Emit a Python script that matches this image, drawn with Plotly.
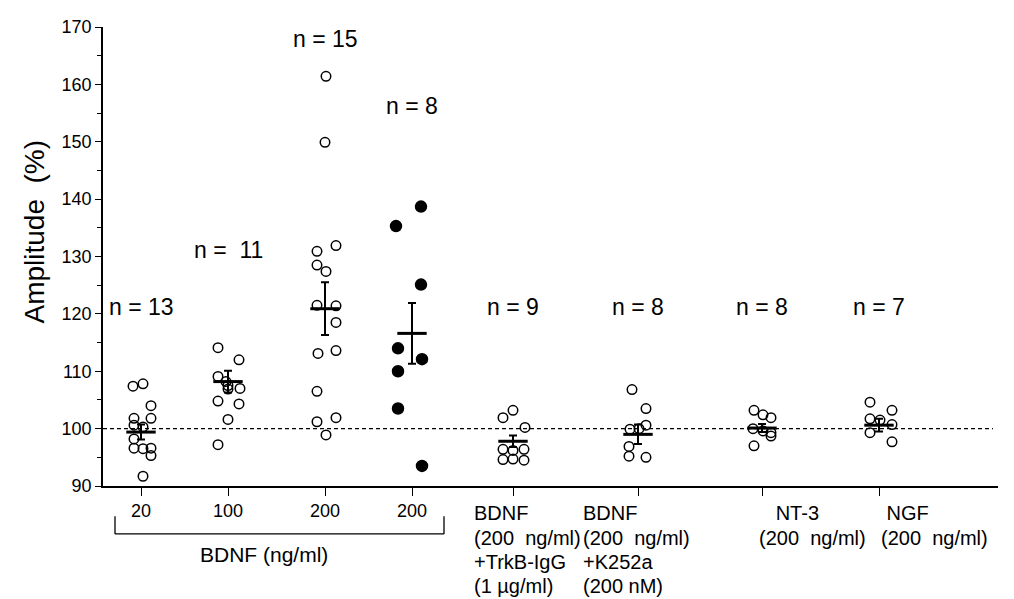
import plotly.graph_objects as go

# ---------------- data ----------------
group_pos = [3.8, 12.5, 22.2, 30.9, 41.0, 53.5, 65.9, 77.6]
tick_text = ["20", "100", "200", "200", "", "", "", ""]
n_labels = ["n = 13", "n =\u00a0 11", "n = 15", "n = 8", "n = 9", "n = 8", "n = 8", "n = 7"]
n_label_y = [121.2, 131.1, 167.9, 156.2, 121.2, 121.2, 121.2, 121.2]

g1_vals = [107.4, 107.8, 104.0, 101.8, 101.8, 100.6, 100.3, 98.2, 96.6, 96.5, 96.6, 95.3, 91.7]
g1_dx = [-0.8, 0.2, 1.0, -0.7, 1.0, -0.7, 0.2, -0.7, -0.7, 0.2, 1.0, 1.0, 0.2]
g2_vals = [114.1, 112.0, 109.1, 106.9, 107.5, 107.0, 104.8, 104.3, 101.6, 97.2, 108.2]
g2_dx = [-1.0, 1.1, -1.0, 0.0, 0.0, 1.2, -1.0, 1.1, 0.0, -1.0, -0.2]
g3_vals = [161.4, 149.9, 130.9, 131.9, 128.5, 127.4, 121.5, 121.4, 118.5, 113.1, 113.6, 106.5, 101.2, 101.9, 98.9]
g3_dx = [0.1, 0.0, -0.8, 1.1, -0.8, 0.1, -0.8, 1.1, 1.1, -0.7, 1.1, -0.8, -0.8, 1.1, 0.1]
g4_vals = [138.7, 135.3, 125.1, 114.0, 112.1, 110.0, 103.5, 93.5]
g4_dx = [0.9, -1.6, 0.9, -1.4, 1.0, -1.4, -1.4, 1.0]
g5_vals = [101.9, 103.2, 100.2, 96.4, 96.2, 96.4, 94.6, 94.7, 94.5]
g5_dx = [-1.0, 0.0, 1.2, -1.0, 0.0, 1.1, -1.0, 0.0, 1.1]
g6_vals = [106.8, 103.5, 100.6, 99.9, 100.0, 96.9, 95.2, 95.0]
g6_dx = [-0.6, 0.8, 0.8, -0.8, 0.1, -0.9, -0.9, 0.8]
g7_vals = [103.2, 102.4, 101.9, 100.0, 99.6, 99.3, 98.7, 97.0]
g7_dx = [-0.8, 0.1, 0.9, -0.9, 0.1, 0.9, 0.9, -0.8]
g8_vals = [104.6, 101.7, 99.3, 101.5, 103.2, 100.7, 97.7]
g8_dx = [-0.9, -0.9, -0.9, 0.1, 1.3, 1.3, 1.3]

means = [99.4, 108.2, 120.9, 116.6, 97.8, 99.0, 100.1, 100.6]
sems = [1.3, 1.9, 4.6, 5.3, 1.0, 1.7, 0.7, 1.1]
filled_group = [False, False, False, True, False, False, False, False]

bottom_labels = [
    ["BDNF", "(200\u00a0 ng/ml)", "+TrkB-IgG", "(1 \u00b5g/ml)"],
    ["BDNF", "(200\u00a0 ng/ml)", "+K252a", "(200 nM)"],
    ["\u00a0\u00a0\u00a0NT-3", "(200\u00a0 ng/ml)"],
    ["\u00a0NGF", "(200\u00a0 ng/ml)"],
]
bracket_label = "BDNF (ng/ml)"
y_title = "Amplitude\u00a0 (%)"
baseline = 100

groups_vals = [g1_vals, g2_vals, g3_vals, g4_vals, g5_vals, g6_vals, g7_vals, g8_vals]
groups_dx = [g1_dx, g2_dx, g3_dx, g4_dx, g5_dx, g6_dx, g7_dx, g8_dx]

# ---------------- layout geometry (screen px; page body has an 8px margin) ----------------
BODY = 8
W, H = 1014 - BODY, 599 - BODY
L, R = 103, 998          # screen x of y-axis and x-axis end
T, B = 17, 486           # screen y of 170 and 90
XMAX = (R - L) / 10.0
FONT = "Arial, Liberation Sans, Helvetica, sans-serif"
label_left = [472, 581, 757, 879]
label_rows = [514, 539, 564, 588]


def px_x(px):
    return (px - L) / 10.0


def paper_y(py):
    return (B - py) / (B - T)


def paper_x(px):
    return (px - L) / (R - L)


fig = go.Figure()

for vals, dx, pos, filled in zip(groups_vals, groups_dx, group_pos, filled_group):
    xs = [pos + d for d in dx]
    fig.add_trace(go.Scatter(
        x=xs, y=vals, mode="markers", showlegend=False, hoverinfo="y",
        marker=dict(
            symbol="circle" if filled else "circle-open",
            size=11 if filled else 9.5,
            color="black",
            line=dict(color="black", width=1.5),
        ),
    ))

fig.add_trace(go.Scatter(
    x=group_pos, y=means, mode="markers", showlegend=False,
    marker=dict(symbol="line-ew", size=21, line=dict(color="black", width=3)),
    error_y=dict(type="data", array=sems, visible=True, color="black", thickness=2, width=4),
))

# baseline dashed
fig.add_shape(type="line", xref="x", yref="y", x0=0, x1=px_x(993), y0=baseline, y1=baseline,
              line=dict(color="black", width=1.3, dash="4px,3px"), layer="below")

# n labels
for pos, txt, yy in zip(group_pos, n_labels, n_label_y):
    fig.add_annotation(x=pos, y=yy, xref="x", yref="y", text=txt, showarrow=False,
                       font=dict(family=FONT, size=23, color="black"), xanchor="center", yanchor="middle")

# bottom multi-line labels, one annotation per line
for lx, lines in zip(label_left, bottom_labels):
    for row_y, line in zip(label_rows, lines):
        fig.add_annotation(x=paper_x(lx), y=paper_y(row_y), xref="paper", yref="paper", text=line,
                           showarrow=False, align="left", xanchor="left", yanchor="middle",
                           font=dict(family=FONT, size=20, color="black"))

# bracket
bx0, bx1, by0, by1 = 115, 444, 517, 535
for (x0, y0, x1, y1) in [(bx0, by1, bx1, by1), (bx0, by0, bx0, by1), (bx1, by0, bx1, by1)]:
    fig.add_shape(type="line", xref="paper", yref="paper",
                  x0=paper_x(x0), x1=paper_x(x1), y0=paper_y(y0), y1=paper_y(y1),
                  line=dict(color="black", width=1.3))
fig.add_annotation(x=paper_x(264), y=paper_y(556), xref="paper", yref="paper", text=bracket_label,
                   showarrow=False, xanchor="center", yanchor="middle",
                   font=dict(family=FONT, size=21, color="black"))

# y title
fig.add_annotation(x=paper_x(35), y=paper_y(226), xref="paper", yref="paper", text=y_title,
                   textangle=-90, showarrow=False, xanchor="center", yanchor="middle",
                   font=dict(family=FONT, size=28, color="black"))

fig.update_layout(
    width=W, height=H,
    margin=dict(l=L - BODY, r=1014 - R, t=T - BODY, b=599 - B, pad=0),
    paper_bgcolor="white", plot_bgcolor="white",
    font=dict(family=FONT, color="black"),
    xaxis=dict(range=[0, XMAX], showgrid=False, zeroline=False, showline=True,
               linecolor="black", linewidth=1.5, ticks="outside", ticklen=8, tickwidth=1.3,
               tickcolor="black", tickvals=group_pos, ticktext=tick_text,
               tickfont=dict(family=FONT, size=18, color="black")),
    yaxis=dict(range=[90, 170], showgrid=False, zeroline=False, showline=True,
               linecolor="black", linewidth=1.5, ticks="outside", ticklen=6, tickwidth=1.3,
               tickcolor="black", tickvals=list(range(90, 171, 10)),
               ticklabeloverflow="allow",
               tickfont=dict(family=FONT, size=18, color="black"),
               minor=dict(ticks="outside", ticklen=4, tickwidth=1.2, tickcolor="black",
                          tickvals=list(range(95, 170, 10)))),
)

fig.write_html("out.html")
